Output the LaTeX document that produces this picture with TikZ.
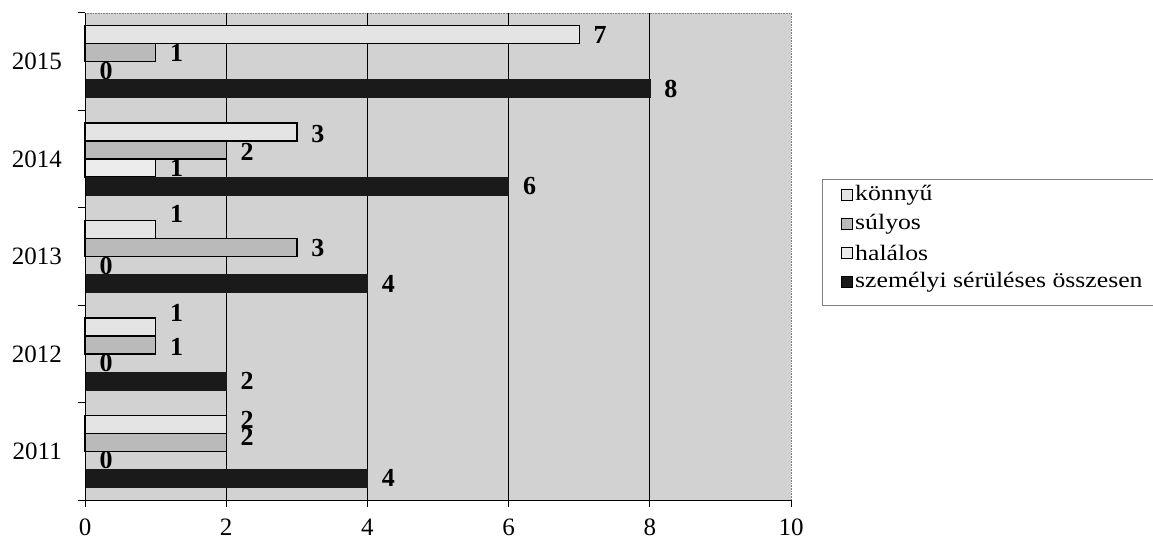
\documentclass[tikz,border=0pt]{standalone}
\usepackage{fontspec}
\setmainfont{Liberation Serif}
\definecolor{plotbg}{HTML}{D2D2D2}
\definecolor{kfill}{HTML}{E4E4E4}
\definecolor{sfill}{HTML}{BABABA}
\definecolor{hfill}{HTML}{ECECEC}
\definecolor{tfill}{HTML}{1A1A1A}
\definecolor{legline}{HTML}{808080}
\begin{document}
\begin{tikzpicture}[x=1pt,y=-1pt,
  ticklab/.style={font=\fontsize{25}{29}\selectfont, inner sep=0pt},
  vallab/.style={font=\bfseries\fontsize{26}{30}\selectfont, inner sep=0pt},
  leglab/.style={font=\fontsize{22}{26}\selectfont, inner sep=0pt, anchor=west},
  kbar/.style={draw=black, line width=1.4pt, fill=kfill},
  sbar/.style={draw=black, line width=1.4pt, fill=sfill},
  hbar/.style={draw=black, line width=1.4pt, fill=hfill},
  tbar/.style={draw=tfill, line width=0.6pt, fill=tfill},
  grid/.style={draw=black, line width=0.8pt},
  axis/.style={draw=black, line width=1pt},
  legbox/.style={draw=legline, line width=0.8pt},
]
\path[use as bounding box] (0,0) rectangle (1153,540);
% plot area
\fill[plotbg] (85,13) rectangle (791,500);
\draw[draw=gray, line width=0.6pt, densely dotted] (85,13) -- (791,13) -- (791,500);
\foreach \v in {2,4,6,8} {
  \draw[grid] ({85+70.6*\v},13) -- ({85+70.6*\v},500);
}
% value labels (drawn first, bars cover them as in the original)
\foreach \c/\yr/\k/\s/\h/\t/\ko/\so in {0/2015/7/1/0/8/0/0, 1/2014/3/2/1/6/2/2, 2/2013/1/3/0/4/-16/1, 3/2012/1/1/0/2/-14/2, 4/2011/2/2/0/4/-4/-5} {
  \pgfmathsetmacro{\T}{13+97.4*\c}
  \node[vallab] (vk\yr) at ({85+70.6*\k+21},{\T+21.7+\ko}) {\k};
  \node[vallab] (vs\yr) at ({85+70.6*\s+21},{\T+39.7+\so}) {\s};
  \node[vallab] (vh\yr) at ({85+70.6*\h+21},{\T+57.7}) {\h};
  \node[vallab] (vt\yr) at ({85+70.6*\t+21},{\T+75.7}) {\t};
}
% bars
\foreach \c/\yr/\k/\s/\h/\t in {0/2015/7/1/0/8, 1/2014/3/2/1/6, 2/2013/1/3/0/4, 3/2012/1/1/0/2, 4/2011/2/2/0/4} {
  \pgfmathsetmacro{\T}{13+97.4*\c}
  \draw[kbar] (85,{\T+12.7}) rectangle ({85+70.6*\k},{\T+30.7});
  \draw[sbar] (85,{\T+30.7}) rectangle ({85+70.6*\s},{\T+48.7});
  \ifnum\h>0
    \draw[hbar] (85,{\T+48.7}) rectangle ({85+70.6*\h},{\T+66.7});
  \fi
  \draw[tbar] (85,{\T+66.7}) rectangle ({85+70.6*\t},{\T+84.7});
  \node[ticklab, anchor=east] (y\yr) at (62,{\T+48.7}) {\yr};
}
% axes
\draw[axis] (85,13) -- (85,507);
\draw[axis] (78,500) -- (791,500);
\foreach \i in {0,...,4} {
  \draw[axis] (78,{13+97.4*\i}) -- (85,{13+97.4*\i});
}
\foreach \v in {0,2,4,6,8,10} {
  \draw[axis] ({85+70.6*\v},500) -- ({85+70.6*\v},507);
  \node[ticklab] (x\v) at ({85+70.6*\v},527) {\v};
}
% legend
\draw[legbox] (1153,179) -- (822,179) -- (822,305) -- (1153,305);
\foreach \n/\lab/\col/\yy in {k/könnyű/kfill/195, s/súlyos/sfill/224, h/halálos/hfill/253, t/személyi sérüléses összesen/tfill/282} {
  \draw[draw=black, line width=1pt, fill=\col] (841,{\yy-5.5}) rectangle (852,{\yy+5.5});
  \node[leglab] (leg\n) at (855,\yy) {\scalebox{1.17}[1]{\lab}};
}
\end{tikzpicture}
\end{document}
